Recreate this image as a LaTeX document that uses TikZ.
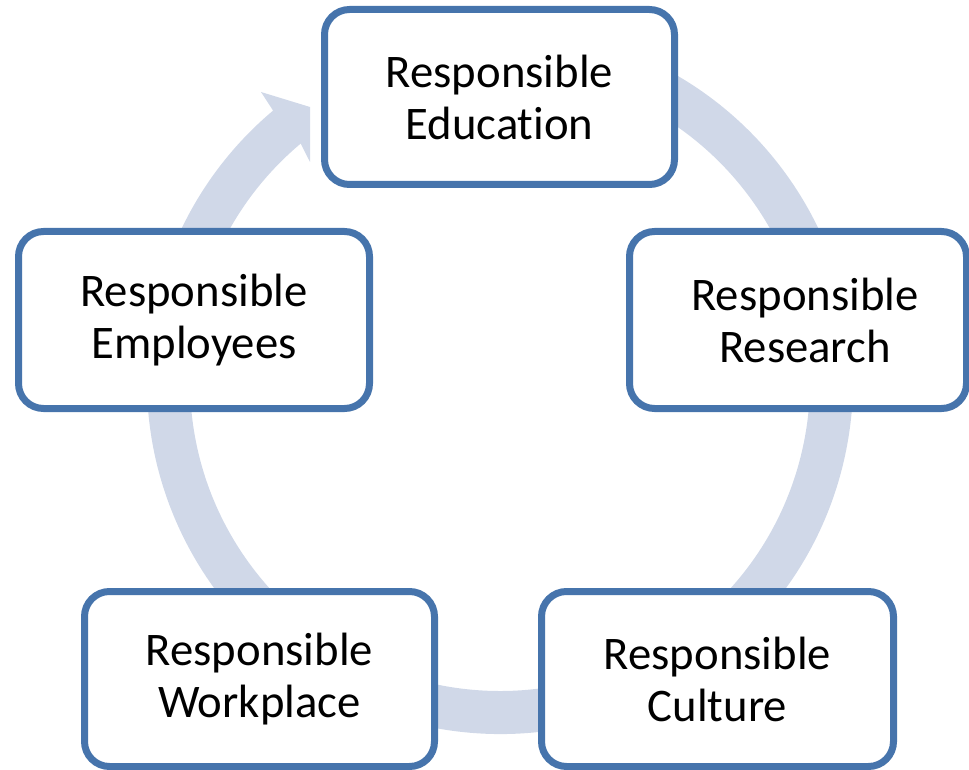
\documentclass[tikz,border=0pt]{standalone}
\usepackage{fontspec}
\setmainfont{Carlito}[Ligatures=NoCommon]
\usetikzlibrary{shadows}
\definecolor{ringc}{RGB}{208,216,232}
\definecolor{boxc}{RGB}{70,116,172}
\tikzset{
  cyclebox/.style={draw=boxc, line width=7pt, fill=white, rounded corners=25pt,
    inner sep=0pt, minimum width=350pt, minimum height=175pt, align=center,
    font=\fontsize{46.7}{52}\selectfont,
    drop shadow={opacity=0.3, shadow xshift=2pt, shadow yshift=-3pt}},
  ring/.style={fill=ringc, draw=none}
}
\begin{document}
\begin{tikzpicture}[x=1pt,y=1pt]
\useasboundingbox (0,0) rectangle (969,-770);
\coordinate (c) at (500,-381);
% circular arrow
\path[ring] ([shift={(80:353)}]c) arc[start angle=80, end angle=-230, radius=353]
  -- (261,-92) -- (310,-107) -- (310,-162)
  -- ([shift={(130:310)}]c) arc[start angle=-230, end angle=80, radius=310] -- cycle;
% boxes
\node[cyclebox] (edu) at (499.5,-97) {Responsible\\Education};
\node[cyclebox, minimum width=337pt, minimum height=177pt] (res) at (798,-320) {\hspace*{14pt}Responsible\\\hspace*{14pt}Research};
\node[cyclebox, minimum width=351pt, minimum height=177pt] (emp) at (194,-320) {Responsible\\Employees};
\node[cyclebox] (wp) at (259.5,-679) {Responsible\\Workplace};
\node[cyclebox, minimum width=352pt] (cul) at (717.5,-679) {Responsible\\Culture};
\end{tikzpicture}
\end{document}
